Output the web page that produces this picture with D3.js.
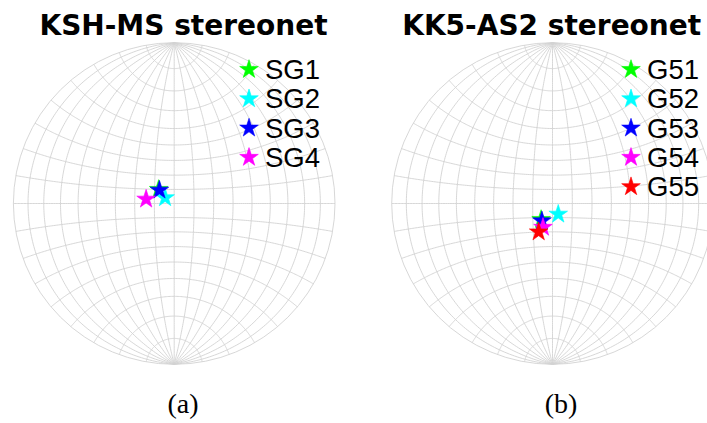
<!DOCTYPE html>
<html>
<head>
    <meta charset="utf-8">
    <title>stereonets</title>
    <style>
        body { margin: 0; background: #fff; }
        .grid { fill: none; stroke: #d3d3d3; stroke-width: 0.9px; }
        .title { font: bold 28px "DejaVu Sans", sans-serif; text-anchor: middle; }
        .label { font: 27.5px "Liberation Sans", Arial, sans-serif; }
        .caption { font: 28px "Liberation Serif", "Times New Roman", serif; text-anchor: middle; }
    </style>
</head>
<body>
<script src="https://d3js.org/d3.v7.min.js"></script>
<script>

    var width = 707,
        height = 423;

    // net (a) : KSH-MS, positions on the net in degrees (lon, lat)
    var namesA = ["SG1", "SG2", "SG3", "SG4"];
    var lonA = [-7.9, -4.6, -7.5, -14.2];
    var latA = [9.9, 4.1, 9.4, 3.0];
    var colorsA = ["#00ff00", "#00ffff", "#0000ff", "#ff00ff"];

    // net (b) : KK5-AS2
    var namesB = ["G51", "G52", "G53", "G54", "G55"];
    var lonB = [-5.8, 2.9, -5.4, -4.9, -7.2];
    var latB = [-11.3, -7.6, -12.3, -16.8, -19.9];
    var colorsB = ["#00ff00", "#00ffff", "#0000ff", "#ff00ff", "#ff0000"];

    var titles = ["KSH-MS stereonet", "KK5-AS2 stereonet"];
    var captions = ["(a)", "(b)"];

    var svg = d3.select("body").append("svg")
        .attr("width", width)
        .attr("height", height);

    // meridians cross the equator like an equal-area net,
    // small circles follow the equal-angle construction
    function netRaw(lambda, phi) {
        var l = 2 * Math.atan(Math.SQRT2 * Math.sin(lambda / 2));
        var cy = Math.cos(phi), k = 1 + Math.cos(l) * cy;
        return [cy * Math.sin(l) / k, Math.sin(phi) / k];
    }

    function gridLines() {
        var lines = [];
        d3.range(-80, 81, 10).forEach(function (lon) {
            lines.push(d3.range(-90, 90.5, 1).map(function (lat) { return [lon, lat]; }));
        });
        d3.range(-80, 81, 10).forEach(function (lat) {
            lines.push(d3.range(-90, 90.5, 1).map(function (lon) { return [lon, lat]; }));
        });
        return { type: "MultiLineString", coordinates: lines };
    }

    function drawNet(cx, cy, titleX, captionX, title, caption, names, lons, lats, colors, legX) {
        var projection = d3.geoProjection(netRaw)
            .scale(160.8)
            .translate([cx, cy]);
        var path = d3.geoPath().projection(projection);

        var g = svg.append("g");

        g.append("path")
            .datum(gridLines())
            .attr("class", "grid")
            .attr("d", path);

        g.append("circle")
            .attr("class", "grid")
            .attr("cx", cx)
            .attr("cy", cy)
            .attr("r", projection.scale());

        var star = d3.symbol().type(d3.symbolStar).size(108);

        g.selectAll(".pt")
            .data(names)
            .enter().append("path")
            .attr("class", "pt")
            .attr("d", star)
            .attr("transform", function (d, i) {
                var p = projection([lons[i], lats[i]]);
                return "translate(" + p[0] + "," + p[1] + ")";
            })
            .attr("fill", function (d, i) { return colors[i]; })
            .attr("stroke", function (d, i) { return colors[i]; })
            .attr("stroke-width", 0.6);

        // legend
        var leg = g.selectAll(".leg")
            .data(names)
            .enter().append("g")
            .attr("class", "leg")
            .attr("transform", function (d, i) {
                return "translate(" + legX + "," + (69.5 + i * 29.3) + ")";
            });
        leg.append("path")
            .attr("d", star)
            .attr("fill", function (d, i) { return colors[i]; })
            .attr("stroke", function (d, i) { return colors[i]; })
            .attr("stroke-width", 0.6);
        leg.append("text")
            .attr("class", "label")
            .attr("x", 16)
            .attr("y", 9.5)
            .text(function (d) { return d; });

        svg.append("text")
            .attr("class", "title")
            .attr("x", titleX)
            .attr("y", 35)
            .text(title);

        svg.append("text")
            .attr("class", "caption")
            .attr("x", captionX)
            .attr("y", 412.5)
            .text(caption);
    }

    drawNet(174.2, 203.5, 183.5, 183, titles[0], captions[0], namesA, lonA, latA, colorsA, 249);
    drawNet(552.5, 203.5, 551.7, 561, titles[1], captions[1], namesB, lonB, latB, colorsB, 631);

</script>
</body>
</html>
